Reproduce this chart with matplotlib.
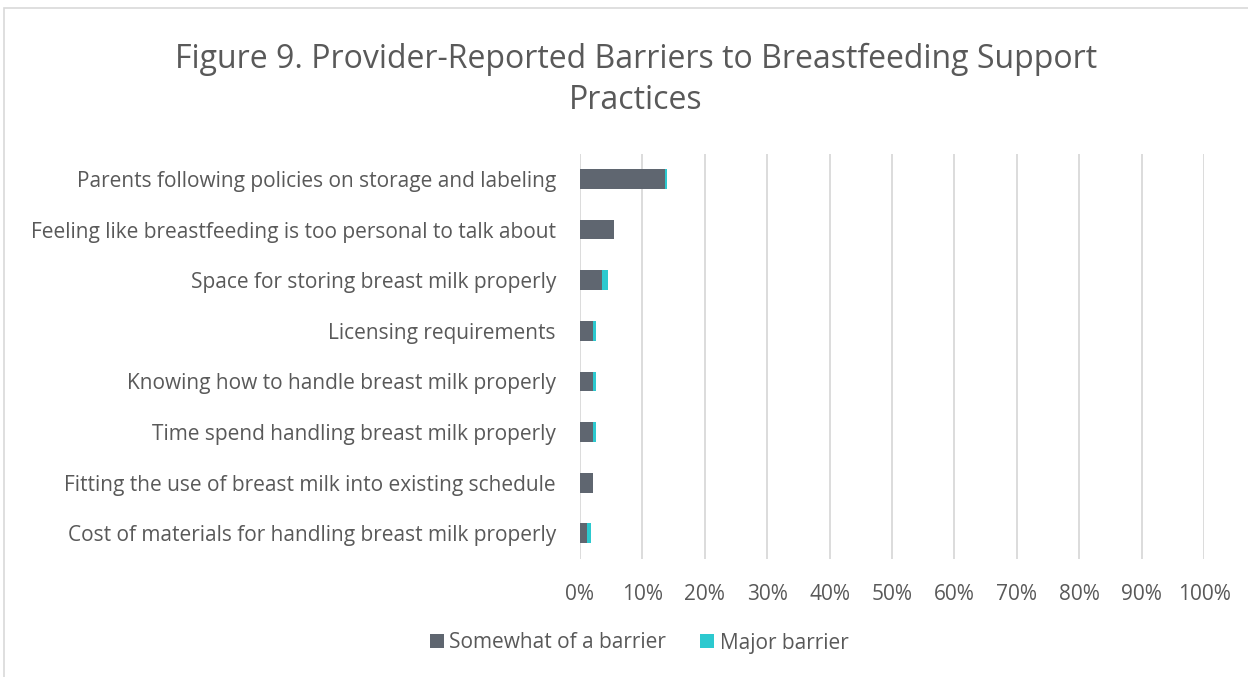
import matplotlib
matplotlib.use("Agg")
import matplotlib.pyplot as plt
from matplotlib.patches import Rectangle

categories = [
    "Parents following policies on storage and labeling",
    "Feeling like breastfeeding is too personal to talk about",
    "Space for storing breast milk properly",
    "Licensing requirements",
    "Knowing how to handle breast milk properly",
    "Time spend handling breast milk properly",
    "Fitting the use of breast milk into existing schedule",
    "Cost of materials for handling breast milk properly",
]
somewhat = [13.6, 5.4, 3.6, 2.1, 2.1, 2.1, 2.1, 1.2]
major = [0.4, 0.0, 0.9, 0.5, 0.5, 0.5, 0.0, 0.5]
xticks = [0, 10, 20, 30, 40, 50, 60, 70, 80, 90, 100]
xticklabels = [f"{t}%" for t in xticks]
title = "Figure 9. Provider-Reported Barriers to Breastfeeding Support\nPractices"

plt.rcParams['font.family'] = ['Open Sans', 'DejaVu Sans']
text_color = '#595959'
c_somewhat = '#5F6670'
c_major = '#2CC9CF'

W, H = 1248, 677
fig = plt.figure(figsize=(W/100, H/100), dpi=100)
ax = fig.add_axes([580/W, 1-558.6/H, (1204-580)/W, (558.6-153.6)/H])

y = list(range(len(categories)))
ax.barh(y, somewhat, height=0.39, color=c_somewhat, label="Somewhat of a barrier", zorder=3)
ax.barh(y, major, left=somewhat, height=0.39, color=c_major, label="Major barrier", zorder=3)
ax.set_ylim(len(categories)-0.5, -0.5)
ax.set_yticks(y)
ax.set_yticklabels(categories, fontsize=15, color=text_color)
ax.set_xlim(0, 100)
ax.set_xticks(xticks)
ax.set_xticklabels(xticklabels, fontsize=15, color=text_color)
ax.tick_params(axis='both', length=0)
ax.tick_params(axis='y', pad=17.3)
ax.tick_params(axis='x', pad=18.5)
ax.grid(axis='x', color='#D9D9D9', linewidth=1.3, zorder=0)
for s in ax.spines.values():
    s.set_visible(False)

fig.text(636/W, 1-80/H, title, ha='center', va='center', fontsize=23, color=text_color, linespacing=1.3)

leg = fig.legend(loc='center', bbox_to_anchor=(639/W, 1-643/H), ncol=2, frameon=False,
                 fontsize=15, handlelength=0.68, handleheight=0.68, handletextpad=0.25,
                 columnspacing=1.65)
for t in leg.get_texts():
    t.set_color(text_color)

fig.patches.append(Rectangle((4/W, -0.01), 1.1, 1-8/H+0.01, transform=fig.transFigure,
                             fill=False, edgecolor='#D9D9D9', linewidth=1.2))

fig.savefig("out.png", dpi=100)
